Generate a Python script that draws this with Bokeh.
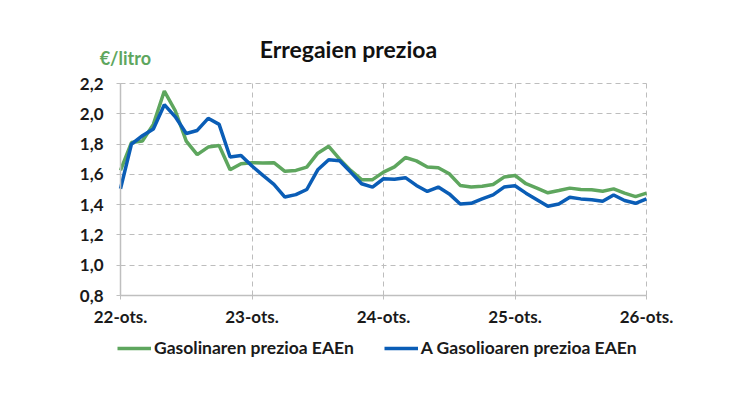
from bokeh.plotting import figure
from bokeh.models import (FixedTicker, CustomJSTickFormatter, Legend, LegendItem,
                          ColumnDataSource, Label, Grid)
from bokeh.embed import file_html
from bokeh.resources import INLINE

# Monthly data, index 0 = 22-ots. ... 48 = 26-ots.
months = list(range(49))
gasolina = [1.627, 1.81, 1.82, 1.93, 2.15, 2.02, 1.82, 1.73, 1.78, 1.79, 1.63, 1.67,
            1.677, 1.675, 1.677, 1.62, 1.626, 1.648, 1.74, 1.785, 1.70, 1.626, 1.565, 1.565,
            1.615, 1.649, 1.711, 1.689, 1.649, 1.644, 1.604, 1.527, 1.516, 1.522, 1.533, 1.582,
            1.593, 1.538, 1.509, 1.478, 1.493, 1.509, 1.50, 1.498, 1.489, 1.504, 1.476, 1.453, 1.476]
gasoleo = [1.505, 1.80, 1.855, 1.90, 2.06, 1.98, 1.87, 1.89, 1.97, 1.93, 1.715, 1.725,
           1.655, 1.593, 1.534, 1.45, 1.466, 1.50, 1.63, 1.697, 1.69, 1.615, 1.538, 1.516,
           1.571, 1.567, 1.578, 1.527, 1.487, 1.516, 1.471, 1.404, 1.409, 1.438, 1.464, 1.516,
           1.525, 1.476, 1.433, 1.389, 1.404, 1.449, 1.438, 1.433, 1.422, 1.464, 1.427, 1.409, 1.438]
tick_pos = [0, 12, 24, 36, 48]
tick_labels = ["22-ots.", "23-ots.", "24-ots.", "25-ots.", "26-ots."]
y_ticks = [0.8, 1.0, 1.2, 1.4, 1.6, 1.8, 2.0, 2.2]
series_names = ["Gasolinaren prezioa EAEn", "A Gasolioaren prezioa EAEn"]
title_text = "Erregaien prezioa"
unit_text = "€/litro"

GREEN = "#5ea65e"
BLUE = "#0a5db6"
TXT = "#1a1a1a"
GRID = "#bdbdbd"
FONT = "Lato"

# plot-area geometry (pixels): value area 526 x 212, with padding kept inside the frame
X0, X1 = tick_pos[0], tick_pos[-1]
Y0, Y1 = y_ticks[0], y_ticks[-1]
PX_PER_MONTH = 526 / (X1 - X0)
PX_PER_UNIT = 212 / (Y1 - Y0)
PAD_L, PAD_R, PAD_T, PAD_B = 48, 40, 10, 76

p = figure(frame_width=526 + PAD_L + PAD_R, frame_height=212 + PAD_T + PAD_B,
           output_backend="svg", toolbar_location=None,
           x_range=(X0 - PAD_L / PX_PER_MONTH, X1 + PAD_R / PX_PER_MONTH),
           y_range=(Y0 - PAD_B / PX_PER_UNIT, Y1 + PAD_T / PX_PER_UNIT),
           min_border_left=120 - PAD_L, min_border_right=88 - PAD_R,
           min_border_top=83 - PAD_T, min_border_bottom=0)
p.outline_line_color = None

# grids limited to the value area
HAS_CB = "cross_bounds" in Grid.properties()
for grid, ticks, cb in ((p.xgrid[0], tick_pos, (Y0, Y1)), (p.ygrid[0], y_ticks, (X0, X1))):
    if HAS_CB:
        grid.ticker = FixedTicker(ticks=ticks)
        grid.cross_bounds = cb
        grid.grid_line_color = GRID
        grid.grid_line_dash = "5 4"
        grid.grid_line_width = 1
    else:
        grid.visible = False
if not HAS_CB:
    p.segment(x0=tick_pos, y0=[Y0] * len(tick_pos), x1=tick_pos, y1=[Y1] * len(tick_pos),
              line_color=GRID, line_dash="5 4", line_width=1, level="underlay")
    p.segment(x0=[X0] * len(y_ticks), y0=y_ticks, x1=[X1] * len(y_ticks), y1=y_ticks,
              line_color=GRID, line_dash="5 4", line_width=1, level="underlay")

src = ColumnDataSource(dict(x=months, g=gasolina, d=gasoleo))
r1 = p.line("x", "g", source=src, line_color=GREEN, line_width=3.5)
r2 = p.line("x", "d", source=src, line_color=BLUE, line_width=3.5)

p.xaxis.ticker = FixedTicker(ticks=tick_pos)
p.xaxis.major_label_overrides = {t: l for t, l in zip(tick_pos, tick_labels)}
p.xaxis.fixed_location = Y0
p.xaxis.bounds = (X0, X1)
p.yaxis.ticker = FixedTicker(ticks=y_ticks)
p.yaxis.fixed_location = X0
p.yaxis.bounds = (Y0, Y1)
p.yaxis.formatter = CustomJSTickFormatter(code="return tick.toFixed(1).replace('.', ',');")
for ax in (p.xaxis[0], p.yaxis[0]):
    ax.axis_line_color = "#bfbfbf"
    ax.axis_line_width = 1.5
    ax.major_tick_line_color = "#bfbfbf"
    ax.major_tick_out = 4
    ax.major_tick_in = 0
    ax.minor_tick_line_color = None
    ax.major_label_text_font = FONT
    ax.major_label_text_font_style = "bold"
    ax.major_label_text_font_size = "17px"
    ax.major_label_text_color = TXT
p.xaxis.major_label_standoff = 6
p.yaxis.major_label_standoff = 13

# title and unit (side-panel labels, placed with the plot's own data scales)
p.add_layout(Label(x=20.8, y=Y1 + 35 / PX_PER_UNIT, text=title_text, text_align="center",
                   text_baseline="alphabetic", text_font=FONT, text_font_style="bold",
                   text_font_size="23px", text_color="#111111"), "above")
p.add_layout(Label(x=-1.9, y=Y1 + 26 / PX_PER_UNIT, text=unit_text, text_align="left",
                   text_baseline="alphabetic", text_font=FONT, text_font_style="bold",
                   text_font_size="18px", text_color=GREEN), "above")

legend = Legend(items=[LegendItem(label=series_names[0], renderers=[r1]),
                       LegendItem(label=series_names[1], renderers=[r2])],
                location=(PAD_L - 3, 13), orientation="horizontal",
                glyph_width=34, glyph_height=18, label_standoff=3, spacing=30,
                padding=0, margin=0, border_line_alpha=0, background_fill_alpha=0,
                label_text_font=FONT, label_text_font_style="bold", label_text_font_size="17.5px",
                label_text_color=TXT)
p.add_layout(legend)

open("out.html", "w").write(file_html(p, INLINE))
